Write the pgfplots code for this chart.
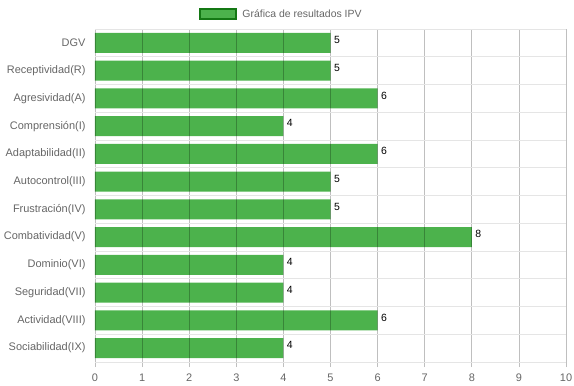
\documentclass[border=0pt]{standalone}
\usepackage{pgfplots}
\pgfplotsset{compat=1.18}
\usepackage{fontspec}
\setmainfont{Liberation Sans}
\definecolor{barg}{RGB}{76,178,76}
\definecolor{darkg}{RGB}{20,120,20}
\definecolor{tickgray}{RGB}{102,102,102}
\begin{document}
\begin{tikzpicture}
\begin{axis}[
  name=ax,
  scale only axis,
  width=471bp, height=333bp,
  xbar, bar width=20bp,
  xmin=0, xmax=10,
  ymin=-0.5, ymax=11.5,
  y dir=reverse,
  xtick={0,1,...,10},
  ytick={0,...,11},
  yticklabels={DGV,Receptividad(R),Agresividad(A),Comprensión(I),Adaptabilidad(II),Autocontrol(III),Frustración(IV),Combatividad(V),Dominio(VI),Seguridad(VII),Actividad(VIII),Sociabilidad(IX)},
  extra y ticks={-0.5,0.5,1.5,2.5,3.5,4.5,5.5,6.5,7.5,8.5,9.5,10.5,11.5},
  extra y tick labels={},
  extra y tick style={grid=major, major grid style={draw=black!10, opacity=1, line width=0.8bp}, major tick length=8bp, tick style={draw=black!10, line width=0.8bp}},
  xmajorgrids=true,
  major grid style={draw=black, opacity=0.25, line width=0.8bp},
  axis on top,
  axis line style={draw=black!25, line width=0.8bp},
  axis x line*=bottom,
  axis y line*=left,
  y axis line style={draw=none},
  every tick label/.append style={font=\fontsize{11}{13}\selectfont, text=tickgray},
  xtick style={draw=black!25, line width=0.8bp},
  ytick style={draw=none},
  major tick length=5bp,
  xtick align=outside,
  ytick align=outside,
  yticklabel style={xshift=-1bp},
  xticklabel style={yshift=-3bp},
  /pgf/number format/assume math mode=true,
  nodes near coords,
  every node near coord/.append style={anchor=north west, yshift=10bp, xshift=0bp, font=\fontsize{10.5}{12}\selectfont, text=black},
  legend style={at={(0.396,1)}, anchor=center, yshift=15bp, draw=none, fill=none, font=\fontsize{10.5}{12}\selectfont, text=tickgray, inner sep=0pt, /tikz/every odd column/.append style={column sep=3bp}},
  legend image code/.code={\draw[fill=barg, draw=darkg, line width=2bp] (0bp,-5bp) rectangle (36bp,5bp);},
]
\addplot[fill=barg, draw=none] coordinates {
(5,0) (5,1) (6,2) (4,3) (6,4) (5,5) (5,6) (8,7) (4,8) (4,9) (6,10) (4,11)};
\addlegendentry{Gráfica de resultados IPV}
\end{axis}
\pgfresetboundingbox
\useasboundingbox ([xshift=-95bp,yshift=-24bp]ax.south west) rectangle ([xshift=8bp,yshift=29bp]ax.north east);
\end{tikzpicture}
\end{document}
